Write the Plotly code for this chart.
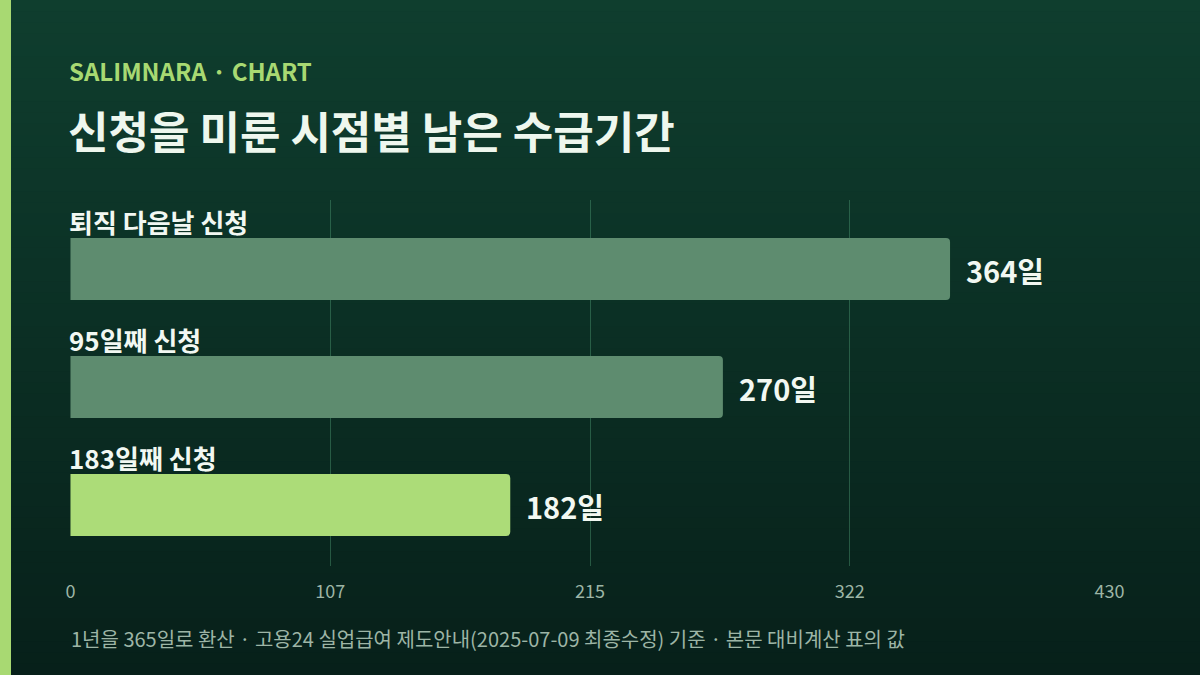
import plotly.graph_objects as go

categories = ['퇴직 다음날 신청', '95일째 신청', '183일째 신청']
days = [364, 270, 182]
value_labels = ['364일', '270일', '182일']
bar_colors = ['#5e8c6f', '#5e8c6f', '#acdc78']
tick_vals = [0, 107.5, 215, 322.5, 430]
tick_text = ['0', '107', '215', '322', '430']

FONT = 'Noto Sans CJK KR'
W, H = 1200, 675
L, R, T, B = 70, 90, 200, 109
PW, PH = W - L - R, H - T - B


def px(x):
    # figure pixel -> paper fraction (paper = plot area)
    return (x - L) / PW


def py(y):
    return (H - B - y) / PH


fig = go.Figure()
fig.add_trace(go.Bar(
    x=days, y=categories, orientation='h',
    marker=dict(color=bar_colors, cornerradius=4, line=dict(width=0)),
    width=0.525, hoverinfo='skip',
))

# category labels above each bar, value labels to the right
annotations = []
for cat, val, lab in zip(categories, days, value_labels):
    annotations.append(dict(
        x=0, y=cat, xref='x', yref='y', text='<b>' + cat + '</b>',
        xanchor='left', yanchor='bottom', yshift=27, xshift=-3, showarrow=False,
        font=dict(family=FONT, size=26, color='#f2f8f2'),
    ))
    annotations.append(dict(
        x=val, y=cat, xref='x', yref='y', text='<b>' + lab + '</b>',
        xanchor='left', yanchor='middle', xshift=14, yshift=-1, showarrow=False,
        font=dict(family=FONT, size=29, color='#f2f8f2'),
    ))

annotations.append(dict(
    x=px(67), y=py(71), xref='paper', yref='paper',
    text='<b>SALIMNARA · CHART</b>', xanchor='left', yanchor='middle',
    showarrow=False, font=dict(family=FONT, size=24, color='#a8d972'),
))
annotations.append(dict(
    x=px(66), y=py(130), xref='paper', yref='paper',
    text='<b>신청을 미룬 시점별 남은 수급기간</b>', xanchor='left', yanchor='middle',
    showarrow=False, font=dict(family=FONT, size=44, color='#eef7ee'),
))
annotations.append(dict(
    x=px(69), y=py(638), xref='paper', yref='paper',
    text='1년을 365일로 환산 · 고용24 실업급여 제도안내(2025-07-09 최종수정) 기준 · 본문 대비계산 표의 값',
    xanchor='left', yanchor='middle', showarrow=False,
    font=dict(family=FONT, size=20, color='#9db5a6'),
))

# background: vertical gradient strips + left accent bar
shapes = []
top = (15, 62, 46)
bot = (7, 32, 26)
n = 60
for i in range(n):
    t = i / (n - 1)
    c = tuple(round(top[k] + (bot[k] - top[k]) * t) for k in range(3))
    shapes.append(dict(
        type='rect', xref='paper', yref='paper', layer='below',
        x0=px(0), x1=px(W), y0=py(H * (i + 1) / n + 1), y1=py(H * i / n),
        fillcolor='rgb(%d,%d,%d)' % c, line=dict(width=0),
    ))
shapes.append(dict(
    type='rect', xref='paper', yref='paper', layer='below',
    x0=px(0), x1=px(11), y0=py(H), y1=py(0), fillcolor='#a8d972', line=dict(width=0),
))

fig.update_layout(
    width=W, height=H,
    margin=dict(l=L, r=R, t=T, b=B),
    paper_bgcolor='#0b2f23', plot_bgcolor='rgba(0,0,0,0)',
    showlegend=False,
    annotations=annotations, shapes=shapes,
    font=dict(family=FONT),
    xaxis=dict(
        range=[-0.2, 430.2], tickvals=tick_vals, ticktext=tick_text,
        showgrid=True, gridcolor='rgba(80,160,120,0.42)', gridwidth=1,
        zeroline=False, showline=False, ticks='',
        tickfont=dict(family=FONT, size=18, color='#9db5a6'),
        ticklabelstandoff=13, fixedrange=True, automargin=False,
    ),
    yaxis=dict(
        range=[2.517, -0.585], showticklabels=False, showgrid=False,
        zeroline=False, showline=False, fixedrange=True, automargin=False,
    ),
)

fig.write_html(
    'out.html',
    config={'displayModeBar': False},
    post_script='document.body.style.margin="0";document.body.style.overflow="hidden";',
)
